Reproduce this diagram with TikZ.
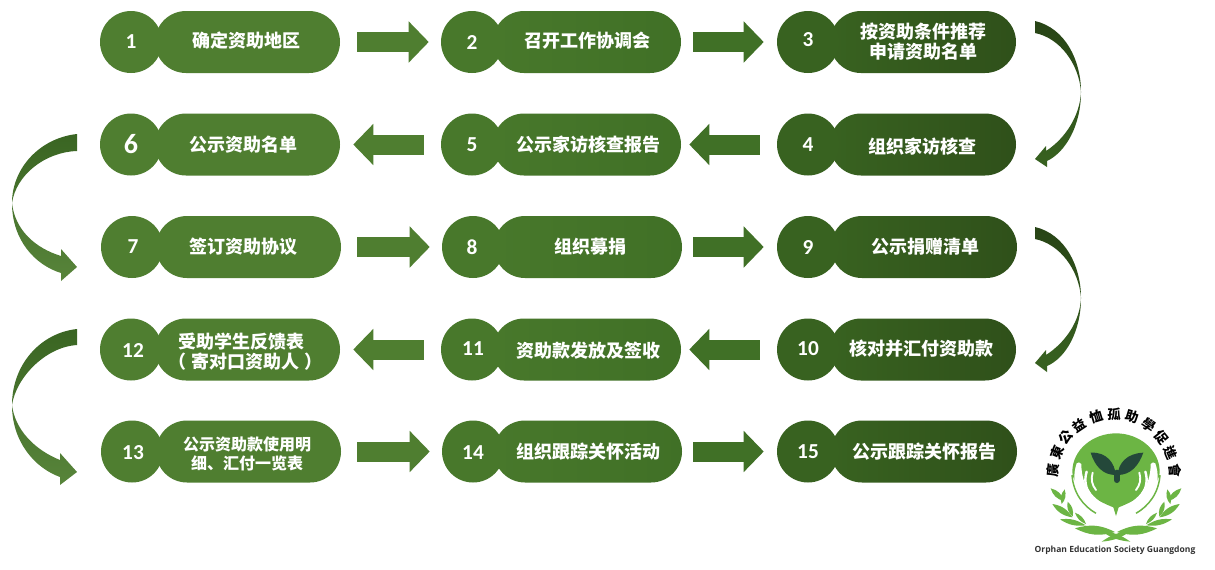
\documentclass[tikz,border=0pt]{standalone}
\usepackage{fontspec}
\usetikzlibrary{arrows.meta,shapes.misc}
\newfontfamily\cjk{Noto Sans CJK SC}
\newfontfamily\cjktc{Noto Sans CJK TC}
\newfontfamily\numf{Carlito}
\newfontfamily\logof{Open Sans}
\definecolor{gA}{HTML}{4F7E30}
\definecolor{gBl}{HTML}{48782B}
\definecolor{gBr}{HTML}{407026}
\definecolor{gCl}{HTML}{386220}
\definecolor{gCr}{HTML}{2F501A}
\definecolor{logog}{HTML}{6CB544}
\definecolor{logod}{HTML}{24483A}
\tikzset{
 pillA/.style={rounded rectangle,inner sep=0pt,minimum height=46.5pt,minimum width=138.75pt,fill=gA},
 pillB/.style={rounded rectangle,inner sep=0pt,minimum height=46.5pt,minimum width=141pt,left color=gBl,right color=gBr},
 pillC/.style={rounded rectangle,inner sep=0pt,minimum height=46.5pt,minimum width=139.5pt,left color=gCl,right color=gCr},
 dotA/.style={circle,inner sep=0pt,minimum size=46.5pt,fill=gA},
 dotB/.style={circle,inner sep=0pt,minimum size=46.5pt,fill=gBl},
 dotC/.style={circle,inner sep=0pt,minimum size=46.5pt,fill=gCl},
 lab/.style={text=white,inner sep=0pt,align=center,yshift=-0.75pt,font=\cjk\bfseries\fontsize{13.5}{15}\selectfont},
 labsm/.style={text=white,inner sep=0pt,align=center,yshift=-0.75pt,font=\cjk\bfseries\fontsize{12}{14.5}\selectfont},
 num/.style={text=white,inner sep=0pt,yshift=-0.75pt,font=\numf\bfseries\fontsize{16}{16}\selectfont},
 numbig/.style={text=white,inner sep=0pt,yshift=-0.75pt,font=\numf\bfseries\fontsize{21}{21}\selectfont},
 blockarrow/.style={line width=15pt,-{Triangle[length=15pt,width=30pt]}},
 logostroke/.style={white,line cap=round},
}
% name, colour group, dot x, row y, pill x
\newcommand{\stepnode}[5]{%
 \node[pill#2] (p#1) at (#5,#4) {};
 \node[dot#2] (c#1) at (#3,#4) {};
}
\begin{document}
\begin{tikzpicture}[x=0.75pt,y=-0.75pt]
\useasboundingbox (0,0) rectangle (1215,569);
\fill[white] (0,0) rectangle (1215,569);
% row 1
\stepnode{1}{A}{131}{42}{247.5}
\stepnode{2}{B}{472}{42}{587}
\stepnode{3}{C}{808}{42}{923}
% row 2
\stepnode{4}{C}{808}{144.5}{923}
\stepnode{5}{B}{472}{144.5}{587}
\stepnode{6}{A}{131}{144.5}{247.5}
% row 3
\stepnode{7}{A}{132}{247}{248.5}
\stepnode{8}{B}{473}{247}{588}
\stepnode{9}{C}{808}{247}{924}
% row 4
\stepnode{10}{C}{808}{349.5}{923}
\stepnode{11}{B}{472}{349.5}{587}
\stepnode{12}{A}{131}{349.5}{247.5}
% row 5
\stepnode{13}{A}{132}{451.5}{248.5}
\stepnode{14}{B}{473}{451.5}{588}
\stepnode{15}{C}{808}{451.5}{924}
% numbers
\node[num] (n1) at (131,41) {1};
\node[num] (n2) at (472,42) {2};
\node[num] (n3) at (808,39) {3};
\node[num] (n4) at (808,144) {4};
\node[num] (n5) at (472,144) {5};
\node[numbig] (n6) at (131,143) {6};
\node[num] (n7) at (133,246) {7};
\node[num] (n8) at (472,246) {8};
\node[num] (n9) at (808,246) {9};
\node[num] (n10) at (808,348) {10};
\node[num] (n11) at (473,348) {11};
\node[num] (n12) at (133,349) {12};
\node[num] (n13) at (133,452) {13};
\node[num] (n14) at (473,452) {14};
\node[num] (n15) at (808,451) {15};
% labels
\node[lab] (t1) at (246,40) {确定资助地区};
\node[lab] (t2) at (587,40) {召开工作协调会};
\node[lab] (t3) at (923,41) {按资助条件推荐\\申请资助名单};
\node[lab] (t4) at (922,146) {组织家访核查};
\node[lab] (t5) at (588,144) {公示家访核查报告};
\node[lab] (t6) at (243,144) {公示资助名单};
\node[lab] (t7) at (243,246) {签订资助协议};
\node[lab] (t8) at (590,246) {组织募捐};
\node[lab] (t9) at (925,246) {公示捐赠清单};
\node[lab] (t10) at (921,348) {核对并汇付资助款};
\node[lab] (t11) at (588,350) {资助款发放及签收};
\node[lab] (t12) at (241,351) {受助学生反馈表\\\kern7pt（\kern4pt 寄对口资助人\kern4pt ）};
\node[labsm] (t13) at (247,453) {公示资助款使用明\\细、汇付一览表};
\node[lab] (t14) at (588,451) {组织跟踪关怀活动};
\node[lab] (t15) at (924,451) {公示跟踪关怀报告};
% straight block arrows
\draw[blockarrow,gA,shorten <=12.75pt,shorten >=9pt] (p1.east) -- (c2.west);
\draw[blockarrow,gBr,shorten <=9pt,shorten >=9.75pt] (p2.east) -- (c3.west);
\draw[blockarrow,gBr,shorten <=12.75pt,shorten >=6pt] (c4.west) -- (p5.east);
\draw[blockarrow,gA,shorten <=12.75pt,shorten >=9.75pt] (c5.west) -- (p6.east);
\draw[blockarrow,gA,shorten <=12pt,shorten >=9pt] (p7.east) -- (c8.west);
\draw[blockarrow,gBr,shorten <=8.25pt,shorten >=9.75pt] (p8.east) -- (c9.west);
\draw[blockarrow,gBr,shorten <=12.75pt,shorten >=6pt] (c10.west) -- (p11.east);
\draw[blockarrow,gA,shorten <=12.75pt,shorten >=9.75pt] (c11.west) -- (p12.east);
\draw[blockarrow,gA,shorten <=12pt,shorten >=9pt] (p13.east) -- (c14.west);
\draw[blockarrow,gBr,shorten <=8.25pt,shorten >=9.75pt] (p14.east) -- (c15.west);
% curved arrows, right
\shade[top color=gCr!85!black,bottom color=gCl]
 (1035,21) .. controls (1065,28) and (1081,60) .. (1081,92)
 .. controls (1081,125) and (1066,152) .. (1047,161) -- (1047,167) -- (1035,159) -- (1046,146) -- (1046,151)
 .. controls (1066,138) and (1080,115) .. (1081,92)
 .. controls (1079,64) and (1060,38) .. (1035,33) -- cycle;
\shade[top color=gCr!85!black,bottom color=gCl]
 (1035,227) .. controls (1065,234) and (1081,266) .. (1081,298)
 .. controls (1081,331) and (1066,358) .. (1047,366) -- (1047,372) -- (1035,363) -- (1046,350) -- (1046,355)
 .. controls (1066,342) and (1080,321) .. (1081,298)
 .. controls (1079,270) and (1060,244) .. (1035,239) -- cycle;
% curved arrows, left
\shade[top color=gBr!90!black,bottom color=gA!95!white]
 (77,134) .. controls (40,138) and (12,168) .. (12,203)
 .. controls (12,240) and (35,265) .. (61,273) -- (61,281) -- (77,267) -- (61,249) -- (61,256)
 .. controls (35,248) and (15,230) .. (12,203)
 .. controls (16,175) and (45,152) .. (77,151) -- cycle;
\shade[top color=gBr!90!black,bottom color=gA!95!white]
 (77,329) .. controls (40,333) and (12,365) .. (12,405)
 .. controls (12,442) and (35,468) .. (60,477) -- (60,485) -- (77,472) -- (60,453) -- (60,460)
 .. controls (35,450) and (15,430) .. (12,405)
 .. controls (16,378) and (45,347) .. (77,345) -- cycle;
% logo
\begin{scope}[shift={(1020,400)},x=0.25pt,y=-0.25pt]
 \fill[logog] (288,100) .. controls (218,100) and (157,150) .. (157,215)
   .. controls (157,262) and (225,300) .. (280,322) -- (288,348) -- (296,322)
   .. controls (351,300) and (419,262) .. (419,215)
   .. controls (419,150) and (358,100) .. (288,100) -- cycle;
 \foreach \m/\o in {1/0,-1/576}{
  \begin{scope}[shift={(\o,0)},xscale=\m]
   \fill[white] (170,190) .. controls (148,255) and (178,322) .. (240,352) -- (268,322)
      .. controls (222,298) and (184,262) .. (184,192) .. controls (182,186) and (172,186) .. (170,190) -- cycle;
   \draw[logostroke,line width=1.8pt] (200,215) .. controls (192,240) and (197,265) .. (210,282);
   \draw[logostroke,line width=1.4pt] (218,218) .. controls (212,238) and (216,255) .. (228,270);
   \draw[logog,line width=1.1pt] (156,225) .. controls (160,280) and (190,318) .. (228,340);
   \foreach \xa/\ya/\xb/\yb/\b in {92/265/132/303/30,134/268/125/312/30,97/312/157/352/25,143/305/158/350/30,120/358/197/376/20,165/338/198/372/25,165/385/285/396/22,245/425/332/393/15}{
     \fill[logog] (\xa,\ya) to[bend left=\b] (\xb,\yb) to[bend left=\b] (\xa,\ya);
   }
  \end{scope}
 }
 \fill[logod] (212,158) .. controls (260,155) and (285,190) .. (287,225) .. controls (250,225) and (225,200) .. (212,158);
 \fill[logod] (370,158) .. controls (320,160) and (295,190) .. (293,225) .. controls (330,225) and (355,200) .. (370,158);
 \draw[logod,line width=4.5pt,line cap=round] (290,218) -- (290,240);
 \foreach \a/\c [count=\i] in {175/廣,158/東,141/公,124/益,107/恤,90/孤,73/助,56/學,39/促,22/進,5/會}{
   \node[inner sep=0pt,rotate=\a-90,font=\cjktc\bfseries\fontsize{10}{10}\selectfont,text=black] (lc\i) at ({282+185*cos(\a)},{228-185*sin(\a)}) {\c};
 }
 \node[inner sep=0pt,font=\logof\bfseries\fontsize{6.4}{7}\selectfont,text=black!80] (lt) at (285,450) {Orphan Education Society Guangdong};
\end{scope}
\end{tikzpicture}
\end{document}
